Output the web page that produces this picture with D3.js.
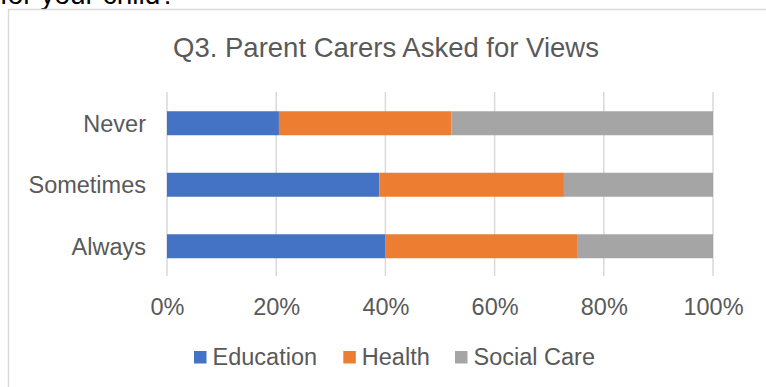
<!DOCTYPE html>
<html>
<head>
<meta charset="utf-8">
<script src="https://cdn.jsdelivr.net/npm/d3@7"></script>
<style>
  html, body { margin: 0; padding: 0; background: #fff; overflow: hidden; }
  svg { display: block; font-family: "Liberation Sans", Arial, sans-serif; }
</style>
</head>
<body>
<svg id="chart" width="766" height="387"></svg>
<script>
// Response categories, top to bottom
const categories = ["Never", "Sometimes", "Always"];
// Share of each service per response (percent)
const education = [20.5, 38.9, 40.0];
const health = [31.6, 33.8, 35.1];
const socialCare = [47.9, 27.3, 24.9];
const seriesNames = ["Education", "Health", "Social Care"];
const seriesColors = ["#4472C4", "#ED7D31", "#A5A5A5"];
const tickValues = [0, 0.2, 0.4, 0.6, 0.8, 1.0];

const svg = d3.select("#chart");
const textColor = "#595959";
const lineColor = "#d9d9d9";

// Heading of the surrounding document, partly cut off at the top
svg.append("text")
  .attr("x", 0).attr("y", 4)
  .attr("font-size", 28).attr("fill", "#000")
  .text("for your child?");

// Chart frame
svg.append("path")
  .attr("d", "M8.5,387 V9.5 H766")
  .attr("fill", "none").attr("stroke", lineColor).attr("stroke-width", 1.5);

// Title
svg.append("text")
  .attr("x", 386).attr("y", 57)
  .attr("text-anchor", "middle")
  .attr("font-size", 27.5).attr("fill", textColor)
  .text("Q3. Parent Carers Asked for Views");

const x = d3.scaleLinear().domain([0, 1]).range([167, 713]);
const y = d3.scaleBand().domain(categories).range([92.5, 277]).paddingInner(0.61).paddingOuter(0.305);

// Normalised stacked rows
const rows = categories.map((c, i) => {
  const total = education[i] + health[i] + socialCare[i];
  return { cat: c, Education: education[i] / total, Health: health[i] / total, "Social Care": socialCare[i] / total };
});
const stacked = d3.stack().keys(seriesNames)(rows);

// Vertical gridlines
svg.append("g").selectAll("line").data(tickValues).join("line")
  .attr("x1", d => x(d)).attr("x2", d => x(d))
  .attr("y1", 92).attr("y2", 276)
  .attr("stroke", lineColor).attr("stroke-width", 1.5);

// Bars
svg.append("g").selectAll("g").data(stacked).join("g")
  .attr("fill", (d, i) => seriesColors[i])
  .selectAll("rect").data(d => d).join("rect")
  .attr("x", d => x(d[0]))
  .attr("width", d => x(d[1]) - x(d[0]))
  .attr("y", d => y(d.data.cat))
  .attr("height", y.bandwidth());

// Category axis labels
svg.append("g").selectAll("text").data(categories).join("text")
  .attr("x", 146).attr("y", d => y(d) + y.bandwidth() / 2 + 8.5)
  .attr("text-anchor", "end")
  .attr("font-size", 23.5).attr("fill", textColor)
  .text(d => d);

// Percent axis
const xAxis = d3.axisBottom(x).tickValues(tickValues).tickFormat(d3.format(".0%")).tickSize(0).tickPadding(0);
const gx = svg.append("g").attr("transform", "translate(0,298)").call(xAxis);
gx.select(".domain").remove();
gx.selectAll("text")
  .attr("font-size", 23.5).attr("fill", textColor)
  .attr("font-family", "Liberation Sans, Arial, sans-serif")
  .attr("dy", null).attr("y", 17);

// Legend
const legendX = [194, 343.3, 455];
const legend = svg.append("g").selectAll("g").data(seriesNames).join("g")
  .attr("transform", (d, i) => `translate(${legendX[i]},351)`);
legend.append("rect").attr("width", 12.5).attr("height", 12.5)
  .attr("fill", (d, i) => seriesColors[i]);
legend.append("text").attr("x", 18.5).attr("y", 14)
  .attr("font-size", 23.5).attr("fill", textColor)
  .text(d => d);
</script>
</body>
</html>
